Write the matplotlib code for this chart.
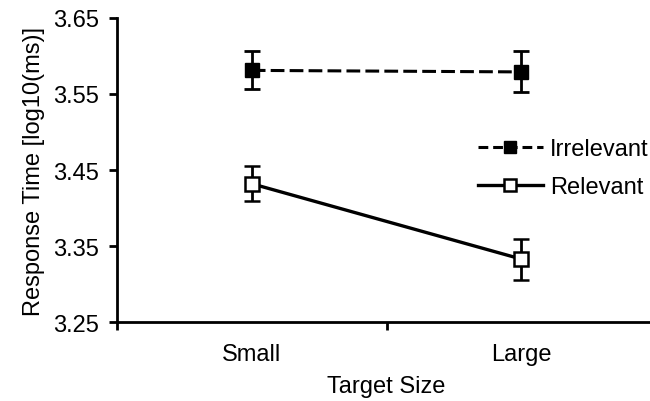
import matplotlib
matplotlib.use("Agg")
import matplotlib.pyplot as plt
from matplotlib.lines import Line2D
import numpy as np

plt.rcParams['font.family'] = ['Liberation Sans', 'DejaVu Sans']

sizes = ['Small', 'Large']
irrelevant = [3.581, 3.579]
irrelevant_err = [0.025, 0.027]
relevant = [3.432, 3.333]
relevant_err = [0.023, 0.027]

x = np.arange(len(sizes))

dash = (0, (4.5, 1.7))

fig = plt.figure(figsize=(6.5, 4.02), dpi=100)
ax = fig.add_axes([117 / 650, 0.196, 539 / 650, 0.757])

ax.errorbar(x, irrelevant, yerr=irrelevant_err, color='black', lw=2.2,
            linestyle=dash, marker='s', ms=10, mfc='black', mec='black',
            ecolor='black', elinewidth=2, capsize=5.5, capthick=2, zorder=3)
ax.errorbar(x, relevant, yerr=relevant_err, color='black', lw=2.4,
            linestyle='-', marker='s', ms=10, mfc='white', mec='black', mew=1.8,
            ecolor='black', elinewidth=2, capsize=5.5, capthick=2, zorder=3)

ax.set_xlim(-0.5, 1.5)
ax.set_ylim(3.25, 3.65)
ax.set_yticks([3.25, 3.35, 3.45, 3.55, 3.65])
ax.set_yticklabels(['3.25', '3.35', '3.45', '3.55', '3.65'])
ax.set_xticks(x)
ax.set_xticklabels(sizes)
ax.set_xticks([-0.5, 0.5, 1.5], minor=True)
ax.tick_params(axis='x', which='major', length=0, labelsize=17, pad=15)
ax.tick_params(axis='x', which='minor', length=6, width=2)
ax.tick_params(axis='y', length=6, width=2, labelsize=17, pad=7)

for s in ['top', 'right']:
    ax.spines[s].set_visible(False)
for s in ['left', 'bottom']:
    ax.spines[s].set_linewidth(2)

ax.set_xlabel('Target Size', fontsize=17, labelpad=7)
ax.set_ylabel('Response Time [log10(ms)]', fontsize=17, labelpad=6)

handles = [
    Line2D([], [], color='black', lw=2.2, linestyle=(0, (3.2, 1.6)), marker='s',
           ms=8.5, mfc='black', mec='black'),
    Line2D([], [], color='black', lw=2.4, linestyle='-', marker='s',
           ms=8.5, mfc='white', mec='black', mew=1.8),
]
fig.legend(handles, ['Irrelevant', 'Relevant'], loc='upper left',
           bbox_to_anchor=(478 / 650, 1 - 139 / 402), frameon=False,
           fontsize=17, handlelength=2.75, handletextpad=0.3,
           labelspacing=0.68, borderaxespad=0, borderpad=0, numpoints=1)

fig.savefig('out.png', dpi=100)
